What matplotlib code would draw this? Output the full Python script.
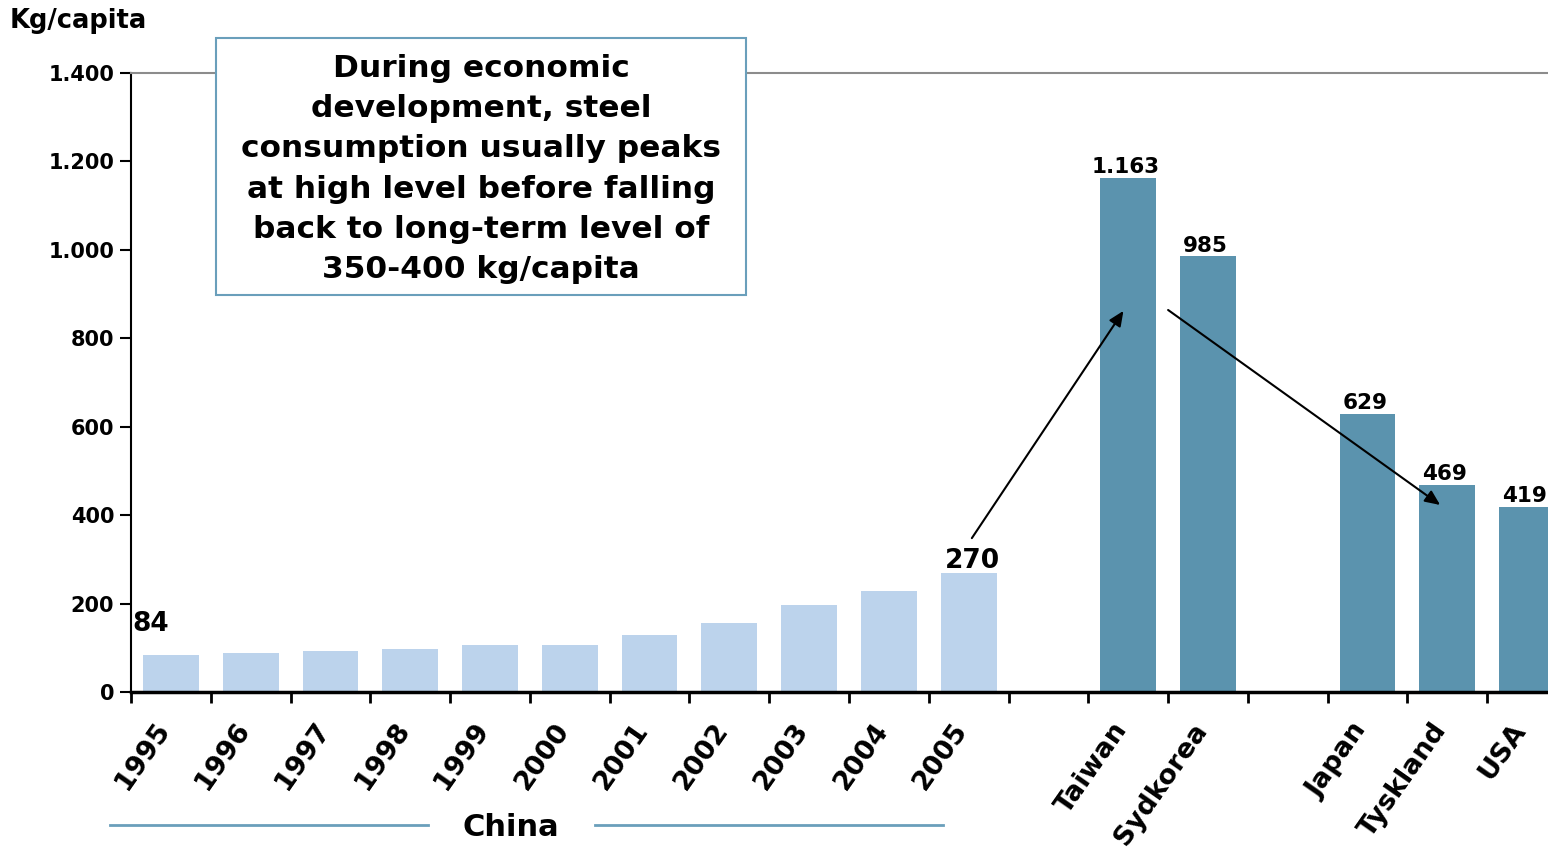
import matplotlib
matplotlib.use("Agg")
import matplotlib.pyplot as plt
from matplotlib.patches import Rectangle
from matplotlib.lines import Line2D
import matplotlib.transforms as mtransforms

# ---- data ----
china_years = ["1995", "1996", "1997", "1998", "1999", "2000", "2001", "2002", "2003", "2004", "2005"]
china_values = [84, 88, 93, 97, 106, 106, 129, 156, 197, 228, 270]
countries = ["Taiwan", "Sydkorea", "Japan", "Tyskland", "USA"]
country_values = [1163, 985, 629, 469, 419]
y_ticks = [0, 200, 400, 600, 800, 1000, 1200, 1400]
note = ("During economic\ndevelopment, steel\nconsumption usually peaks\n"
        "at high level before falling\nback to long-term level of\n350-400 kg/capita")

LIGHT = "#bcd3ec"
DARK = "#5b93ae"
BOXC = "#6a9fbb"

W, H = 1548, 848
fig = plt.figure(figsize=(W / 100, H / 100), dpi=100)
plt.rcParams['font.family'] = ['DejaVu Sans']

def fx(px):
    return px / W

def fy(py):
    return 1 - py / H

ax = fig.add_axes([fx(131), fy(692), fx(1567) - fx(131), fy(73) - fy(692)])

# slot positions: China 0..10, gap, Taiwan, Sydkorea, gap, Japan, Tyskland, USA
china_x = list(range(len(china_years)))
country_x = [12, 13, 15, 16, 17]

ax.bar(china_x, china_values, width=0.7, color=LIGHT, edgecolor="none")
ax.bar(country_x, country_values, width=0.7, color=DARK, edgecolor="none")

ax.set_xlim(-0.5, 17.5)
ax.set_ylim(0, 1400)

# ticks
ax.set_xticks([i - 0.5 for i in range(19)])
ax.set_xticklabels([])
ax.set_xticks(china_x + country_x, china_years + countries, minor=True)
ax.tick_params(axis="x", which="major", direction="out", length=8, width=2, color="black")
ax.tick_params(axis="x", which="minor", length=0, pad=24)
shift = mtransforms.ScaledTranslation(-6 / 100, 0, fig.dpi_scale_trans)
for lab in ax.get_xticklabels(minor=True):
    lab.set_rotation(55)
    lab.set_rotation_mode("anchor")
    lab.set_ha("right")
    lab.set_va("center")
    lab.set_fontsize(19.5)
    lab.set_fontweight("bold")
    lab.set_transform(lab.get_transform() + shift)

ax.set_yticks(y_ticks)
ax.set_yticklabels([f"{v:,.0f}".replace(",", ".") for v in y_ticks],
                   fontsize=15, fontweight="bold")
ax.tick_params(axis="y", direction="out", length=8, width=1.5, color="black", pad=4)

ax.spines["right"].set_visible(False)
ax.spines["top"].set_color("#8c8c8c")
ax.spines["top"].set_linewidth(1.5)
ax.spines["left"].set_color("black")
ax.spines["left"].set_linewidth(1.5)
ax.spines["bottom"].set_color("black")
ax.spines["bottom"].set_linewidth(2.5)

# value labels
ax.text(-0.48, china_values[0] + 40, str(china_values[0]), ha="left", va="bottom",
        fontsize=19, fontweight="bold")
ax.text(china_x[-1] + 0.05, china_values[-1] - 2, str(china_values[-1]), ha="center", va="bottom",
        fontsize=19, fontweight="bold")
for x, v in zip(country_x, country_values):
    ax.text(x - 0.03, v + 2, f"{v:,.0f}".replace(",", "."), ha="center", va="bottom",
            fontsize=15.5, fontweight="bold")

# arrows
ap = dict(arrowstyle="-|>,head_length=0.9,head_width=0.4", color="black", lw=1.5,
          shrinkA=0, shrinkB=0)
ax.annotate("", xy=(11.94, 862), xytext=(10.04, 348), arrowprops=ap)
ax.annotate("", xy=(15.91, 423), xytext=(12.5, 864), arrowprops=ap)

# y unit label
fig.text(fx(10), fy(21), "Kg/capita", ha="left", va="center", fontsize=18.5, fontweight="bold")

# note box
fig.add_artist(Rectangle((fx(216), fy(295)), fx(746) - fx(216), fy(38) - fy(295),
                         transform=fig.transFigure, facecolor="white", edgecolor=BOXC, lw=1.5))
fig.text(fx(481), fy(169), note, ha="center", va="center", fontsize=22.5, fontweight="bold",
         linespacing=1.48)

# China group label
fig.add_artist(Line2D([fx(110), fx(428)], [fy(825), fy(825)], transform=fig.transFigure,
                      color=BOXC, lw=2))
fig.add_artist(Line2D([fx(595), fx(943)], [fy(825), fy(825)], transform=fig.transFigure,
                      color=BOXC, lw=2))
fig.text(fx(511), fy(828), "China", ha="center", va="center", fontsize=22, fontweight="bold")

fig.savefig("out.png", dpi=100)
